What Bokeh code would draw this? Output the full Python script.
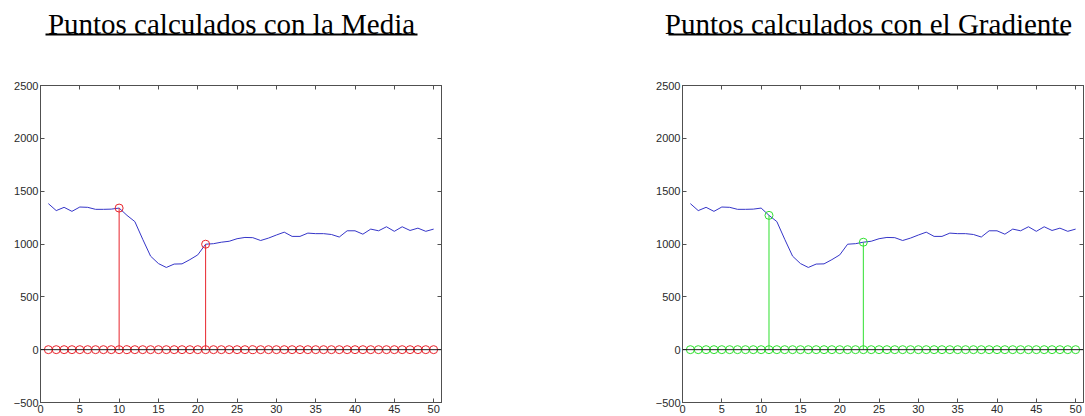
from bokeh.plotting import figure
from bokeh.layouts import row, column
from bokeh.models import Range1d, FixedTicker, LinearAxis, Span
from bokeh.core.properties import value
from bokeh.embed import file_html
from bokeh.resources import INLINE

# Signal samples (index 1..50) and the detected points for each method
muestras = list(range(1, 51))
senal = [1382, 1316, 1347, 1309, 1350, 1347, 1328, 1328, 1330, 1340,
         1271, 1212, 1045, 885, 815, 778, 810, 812, 852, 897,
         998, 1003, 1017, 1026, 1050, 1062, 1060, 1033, 1056, 1085,
         1112, 1072, 1072, 1103, 1098, 1098, 1090, 1066, 1125, 1125,
         1093, 1141, 1125, 1163, 1120, 1163, 1128, 1150, 1120, 1141]
ceros = [0] * len(muestras)
puntos_media = [10, 21]
puntos_gradiente = [11, 23]
titulos = ["Puntos calculados con la Media", "Puntos calculados con el Gradiente"]
ticks_x = list(range(0, 51, 5))
ticks_y = list(range(-500, 2501, 500))

X_RANGE = (0, 51)
Y_RANGE = (-500, 2500)

WIDTH = 1085
HEADER_H = 70
PANEL_H = 416 - HEADER_H

AXIS_GRAY = "#505050"
TEXT_GRAY = "#2a2a2a"
BLUE = "#3535c8"

# ---- heading strip (pixel coordinates, y grows downwards) ----
head = figure(width=WIDTH, height=HEADER_H, output_backend="svg", toolbar_location=None,
              x_range=Range1d(0, WIDTH), y_range=Range1d(HEADER_H, 0),
              min_border=0, x_axis_location=None, y_axis_location=None)
head.outline_line_color = None
head.grid.visible = False
head.text(x=[231, 868], y=[23, 23], text=titulos,
          text_font=value("Liberation Serif"), text_font_size=value("29px"),
          text_color="black", text_align="center", text_baseline="alphabetic")
# underline under each heading
head.segment(x0=[45, 668], y0=[34, 34], x1=[417, 1068], y1=[34, 34],
             line_color="black", line_width=2)


def style_axis(ax, ticks, labels):
    ax.ticker = FixedTicker(ticks=ticks)
    ax.axis_line_color = AXIS_GRAY
    ax.major_tick_line_color = AXIS_GRAY
    ax.major_tick_in = 4
    ax.major_tick_out = 0
    ax.minor_tick_line_color = None
    ax.major_label_text_font = "Liberation Sans"
    ax.major_label_text_font_size = "11px"
    ax.major_label_text_color = TEXT_GRAY
    if labels:
        ax.major_label_standoff = 2
    else:
        ax.major_label_standoff = 0
        ax.major_label_overrides = {t: "" for t in ticks}


def panel(puntos, color, width, left, right):
    p = figure(width=width, height=PANEL_H, output_backend="svg", toolbar_location=None,
               x_range=Range1d(*X_RANGE), y_range=Range1d(*Y_RANGE),
               min_border_left=left, min_border_right=right,
               min_border_top=85 - HEADER_H, min_border_bottom=14,
               x_axis_location=None, y_axis_location=None)
    p.outline_line_color = AXIS_GRAY
    p.grid.visible = False

    for place in ("below", "above"):
        ax = LinearAxis()
        style_axis(ax, ticks_x, place == "below")
        p.add_layout(ax, place)
    for place in ("left", "right"):
        ax = LinearAxis()
        style_axis(ax, ticks_y, place == "left")
        p.add_layout(ax, place)

    # signal
    p.line(muestras, senal, line_color=BLUE, line_width=1)

    # stem baseline
    p.add_layout(Span(location=0, dimension="width", line_color="#1e1e1e", line_width=1))

    # zero stems at every sample, raised stems at the detected points
    alturas = [senal[i - 1] for i in puntos]
    p.segment(x0=puntos, y0=[0] * len(puntos), x1=puntos, y1=alturas,
              line_color=color, line_width=1)
    p.scatter(muestras, ceros, marker="circle", size=8, fill_color=None,
              line_color=color, line_width=1)
    p.scatter(puntos, alturas, marker="circle", size=8, fill_color=None,
              line_color=color, line_width=1)
    return p


p1 = panel(puntos_media, "#e8242c", 542, 40, 101)
p2 = panel(puntos_gradiente, "#2fe02f", 543, 140, 2)

layout = column(head, row(p1, p2))
open("out.html", "w").write(file_html(layout, INLINE))
